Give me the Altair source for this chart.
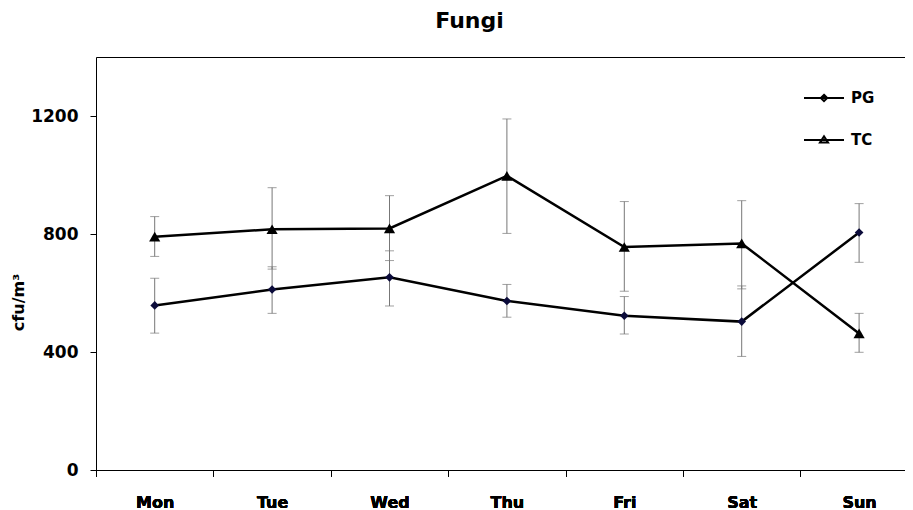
import altair as alt
import pandas as pd

days = ["Mon", "Tue", "Wed", "Thu", "Fri", "Sat", "Sun"]
series_names = ["PG", "TC"]

pg_mean = [558, 612, 653, 573, 523, 503, 805]
pg_low = [464, 531, 556, 518, 461, 385, 704]
pg_high = [650, 689, 743, 629, 588, 624, 903]

tc_mean = [791, 816, 819, 997, 756, 768, 463]
tc_low = [724, 681, 710, 802, 606, 614, 399]
tc_high = [859, 957, 930, 1190, 910, 913, 531]

y_ticks = [0, 400, 800, 1200]

rows = []
for name, m, lo, hi in [("PG", pg_mean, pg_low, pg_high), ("TC", tc_mean, tc_low, tc_high)]:
    for d, a, b, c in zip(days, m, lo, hi):
        rows.append({"series": name, "day": d, "value": a, "lo": b, "hi": c})
df = pd.DataFrame(rows)

FONT = "DejaVu Sans"
W, H = 809, 413
STEP = 117.4

x_scale = alt.Scale(domain=days, range=[0, STEP * len(days)], paddingInner=0, paddingOuter=0)
y_scale = alt.Scale(domain=[0, 1400], nice=False, zero=True)

x_axis = alt.Axis(orient="bottom", title=None, labelAngle=0, tickBand="extent", tickSize=6,
                  tickColor="black", domainColor="black", labelColor="black", labelFont=FONT,
                  labelFontSize=16, labelFontWeight="bold", labelBaseline="alphabetic",
                  labelPadding=31, grid=False)
y_axis = alt.Axis(title="cfu/m³", values=y_ticks, format="d", tickSize=6, tickColor="black",
                  domainColor="black", labelColor="black", labelFont=FONT, labelFontSize=17,
                  labelFontWeight="bold", labelPadding=12, labelBaseline="middle", grid=False,
                  titleFont=FONT, titleFontSize=16, titleFontWeight="bold", titleColor="black",
                  titleAngle=270, titleAlign="center", titleBaseline="middle", titleX=-78, titleY=245)

base = alt.Chart(df)
X = alt.X("day:N", scale=x_scale, axis=x_axis, sort=days)
Y = alt.Y("value:Q", scale=y_scale, axis=y_axis)

ERR = "#777777"
err = base.mark_rule(color=ERR, strokeWidth=1).encode(
    x=alt.X("day:N", scale=x_scale, sort=days, axis=x_axis),
    y=alt.Y("lo:Q", scale=y_scale, axis=y_axis), y2="hi:Q")
cap_lo = base.mark_tick(color=ERR, thickness=1, size=9).encode(
    x=alt.X("day:N", scale=x_scale, sort=days, axis=x_axis),
    y=alt.Y("lo:Q", scale=y_scale, axis=y_axis))
cap_hi = base.mark_tick(color=ERR, thickness=1, size=9).encode(
    x=alt.X("day:N", scale=x_scale, sort=days, axis=x_axis),
    y=alt.Y("hi:Q", scale=y_scale, axis=y_axis))

lines = base.mark_line(color="black", strokeWidth=2.5).encode(x=X, y=Y, detail="series:N")

points = base.mark_point(filled=True, opacity=1).encode(
    x=X, y=Y,
    shape=alt.Shape("series:N", scale=alt.Scale(domain=series_names, range=["diamond", "triangle-up"]), legend=None),
    color=alt.Color("series:N", scale=alt.Scale(domain=series_names, range=["#0b0b3a", "black"]), legend=None),
    size=alt.Size("series:N", scale=alt.Scale(domain=series_names, range=[75, 125]), legend=None),
)

pg_path = "M-1,0L1,0M0,-0.16L0.16,0L0,0.16L-0.16,0Z"
tc_path = "M-1,0L1,0M0,-0.18L0.2,0.12L-0.2,0.12Z"

legend_layer = base.transform_filter("false").mark_point(filled=False, color="black", strokeWidth=2).encode(
    shape=alt.Shape("series:N", scale=alt.Scale(domain=series_names, range=[pg_path, tc_path]),
                    legend=alt.Legend(title=None, orient="none", legendX=707, legendY=20, padding=0,
                                      symbolSize=1600, symbolStrokeWidth=2, symbolFillColor="black",
                                      symbolStrokeColor="black", symbolOpacity=1,
                                      labelFont=FONT, labelFontSize=15,
                                      labelFontWeight="bold", labelColor="black", labelOffset=6,
                                      rowPadding=13))
)

top_frame = base.mark_tick(opacity=0).encode(
    x=alt.X("day:N", scale=x_scale, sort=days,
            axis=alt.Axis(orient="top", labels=False, ticks=False, title=None, domainColor="black", grid=False)),
    y=alt.Y("value:Q", scale=y_scale, axis=y_axis))

chart = alt.layer(err, cap_lo, cap_hi, lines, points, legend_layer, top_frame).resolve_scale(
    shape="independent"
).resolve_axis(x="independent").properties(
    width=W, height=H,
    autosize=alt.AutoSizeParams(type="none"),
    padding={"left": 88, "top": 49, "right": 0, "bottom": 40},
    title=alt.TitleParams("Fungi", font=FONT, fontSize=22, fontWeight="bold", color="black",
                          anchor="middle", frame="group", dx=-31, offset=7, baseline="alphabetic"),
).configure_view(stroke=None).configure(background="white")

chart.save("out.html", embed_options={"renderer": "svg", "actions": False})
